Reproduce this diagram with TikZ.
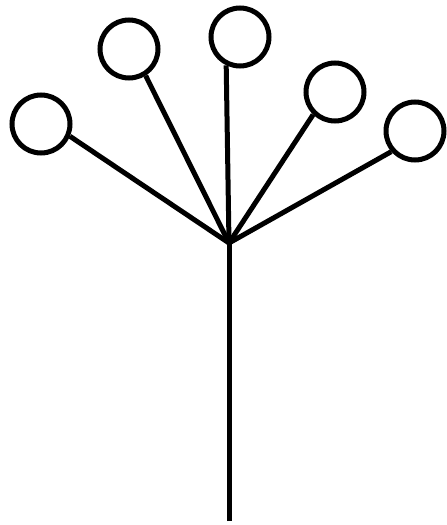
\documentclass[tikz,border=0pt]{standalone}
\usepackage{tikz}
\usetikzlibrary{calc}

\begin{document}
\begin{tikzpicture}[x=1pt, y=-1pt, line width=5pt,
		flower/.style={draw, circle, minimum size=58pt, inner sep=0pt}]
			\useasboundingbox (0,0) rectangle (447,525);
			\coordinate (hub) at (229,243);
			\coordinate (base) at (229,521);
			\node[flower] (c1) at (41,124) {};
			\node[flower] (c2) at (129,49) {};
			\node[flower] (c3) at (240,37) {};
			\node[flower] (c4) at (335,92) {};
			\node[flower] (c5) at (415,131) {};
			\draw (base) -- (hub);
			\draw (hub) -- (c1.337);
			\draw (hub) -- (c2.302);
			\draw (hub) -- (c3.244);
			\draw (hub) -- (c4.226);
			\draw (hub) -- (c5.221);
		\end{tikzpicture}
\end{document}
